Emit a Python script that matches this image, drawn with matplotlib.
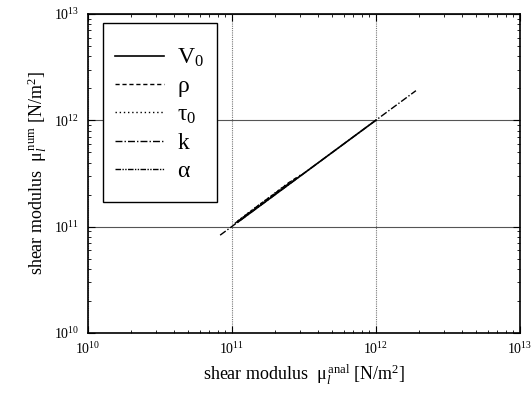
import numpy as np
import matplotlib.pyplot as plt
from matplotlib.patches import Rectangle

plt.rcParams['font.family'] = ['Liberation Serif', 'DejaVu Serif']
plt.rcParams['mathtext.fontset'] = 'custom'
plt.rcParams['mathtext.rm'] = 'Liberation Serif'
plt.rcParams['mathtext.it'] = 'Liberation Serif:italic'

# analytical vs numerical shear modulus for each perturbed parameter
mu_anal_V0 = [1.1e11, 1.5e11, 2.0e11, 3.0e11, 5.0e11, 1.0e12]
mu_num_V0 = [1.1e11, 1.5e11, 2.0e11, 3.0e11, 5.0e11, 1.0e12]

mu_anal_rho = [1.1e11, 1.5e11, 2.0e11, 2.5e11, 3.0e11]
mu_num_rho = [1.12e11, 1.53e11, 2.05e11, 2.6e11, 3.05e11]

mu_anal_tau = [1.1e11, 1.4e11, 1.8e11, 2.3e11, 2.8e11]
mu_num_tau = [1.13e11, 1.45e11, 1.86e11, 2.4e11, 2.85e11]

mu_anal_k = [8.3e10, 1.0e11, 2.0e11, 5.0e11, 1.0e12, 1.9e12]
mu_num_k = [8.3e10, 1.0e11, 2.0e11, 5.0e11, 1.0e12, 1.9e12]

mu_anal_alpha = [1.05e11, 1.5e11, 2.0e11, 2.5e11]
mu_num_alpha = [1.07e11, 1.55e11, 2.06e11, 2.55e11]

labels = ['V$_0$', 'ρ', 'τ$_0$', 'k', 'α']

fig = plt.figure(figsize=(5.32, 4.01), dpi=100)
ax = fig.add_axes([0.165, 0.170, 0.812, 0.795])

ax.plot(mu_anal_V0, mu_num_V0, color='black', lw=1.2, ls='-', label=labels[0])
ax.plot(mu_anal_rho, mu_num_rho, color='black', lw=1.0, ls=(0, (3, 2)), label=labels[1])
ax.plot(mu_anal_tau, mu_num_tau, color='black', lw=1.0, ls=(0, (1, 2)), label=labels[2])
ax.plot(mu_anal_k, mu_num_k, color='black', lw=1.0, ls=(0, (5, 1.5, 1, 1.5)), label=labels[3])
ax.plot(mu_anal_alpha, mu_num_alpha, color='black', lw=1.0, ls=(0, (4, 1, 1, 1, 1, 1)), label=labels[4])

ax.set_xscale('log')
ax.set_yscale('log')
ax.set_xlim(1e10, 1e13)
ax.set_ylim(1e10, 1e13)

ax.grid(True, which='major', axis='y', color='#555555', lw=0.8, ls='-')
ax.grid(True, which='major', axis='x', color='#777777', lw=0.8, ls=(0, (1, 1)))

ax.tick_params(which='both', direction='in', top=True, right=True, labelsize=10)
ax.tick_params(which='major', length=5, pad=6)
ax.tick_params(which='minor', length=2.5)
for s in ax.spines.values():
    s.set_linewidth(1.2)

ax.set_xlabel(r'shear modulus  μ$_l^{\,\mathrm{anal}}$ [N/m$^2$]', fontsize=13)
ax.set_ylabel(r'shear modulus  μ$_l^{\,\mathrm{num}}$ [N/m$^2$]', fontsize=13)

# legend entries without frame, box drawn separately (tall, narrow)
leg = ax.legend(loc='upper left', fontsize=17, frameon=False,
                handlelength=2.1, labelspacing=0.28, borderpad=0,
                handletextpad=0.55, borderaxespad=0,
                bbox_to_anchor=(0.0625, 0.897))
leg.set_zorder(5)
box = Rectangle((0.035, 0.41), 0.264, 0.562, transform=ax.transAxes,
                facecolor='white', edgecolor='black', lw=1.0, zorder=4)
ax.add_patch(box)

fig.savefig('out.png', dpi=100)
